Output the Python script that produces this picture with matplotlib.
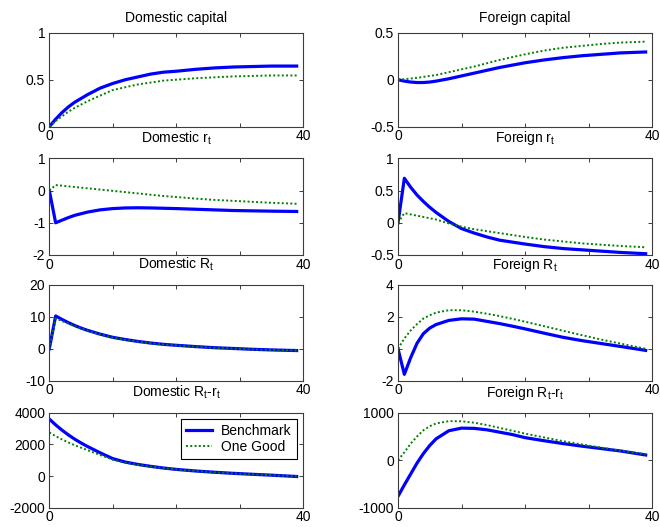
import numpy as np
import matplotlib
matplotlib.use('Agg')
import matplotlib.pyplot as plt

plt.rcParams['font.family'] = ['Liberation Sans', 'DejaVu Sans']
plt.rcParams['font.size'] = 10
plt.rcParams['mathtext.default'] = 'regular'

# quarters after the shock (sampled)
t = [0, 1, 2, 3, 4, 5, 6, 8, 10, 12, 14, 16, 18, 20, 23, 26, 29, 32, 35, 39]

# Benchmark series
bm_dom_k = [0, 0.08, 0.15, 0.21, 0.26, 0.30, 0.34, 0.41, 0.46, 0.50, 0.53, 0.56, 0.58, 0.59, 0.61, 0.625, 0.635, 0.64, 0.645, 0.645]
bm_for_k = [0, -0.015, -0.025, -0.03, -0.03, -0.025, -0.015, 0.01, 0.04, 0.07, 0.10, 0.13, 0.155, 0.18, 0.21, 0.235, 0.255, 0.27, 0.285, 0.295]
bm_dom_r = [0, -1.0, -0.92, -0.84, -0.77, -0.72, -0.67, -0.60, -0.56, -0.54, -0.535, -0.54, -0.55, -0.56, -0.58, -0.60, -0.62, -0.63, -0.64, -0.65]
bm_for_r = [0, 0.69, 0.55, 0.43, 0.33, 0.24, 0.16, 0.02, -0.09, -0.16, -0.22, -0.27, -0.30, -0.33, -0.37, -0.40, -0.42, -0.44, -0.46, -0.48]
bm_dom_R = [0, 10.3, 9.2, 8.2, 7.3, 6.5, 5.8, 4.6, 3.6, 2.9, 2.3, 1.8, 1.4, 1.1, 0.7, 0.35, 0.1, -0.15, -0.35, -0.55]
bm_for_R = [0, -1.6, -0.55, 0.35, 0.95, 1.3, 1.52, 1.78, 1.88, 1.86, 1.72, 1.58, 1.42, 1.25, 0.98, 0.72, 0.51, 0.33, 0.15, -0.1]
bm_dom_Rr = [3600, 3230, 2900, 2600, 2330, 2090, 1870, 1470, 1100, 880, 730, 610, 505, 420, 320, 240, 170, 110, 55, -30]
bm_for_Rr = [-760, -520, -290, -60, 140, 310, 450, 620, 675, 670, 640, 590, 540, 475, 410, 350, 295, 245, 195, 110]

# One Good series
og_dom_k = [0, 0.06, 0.11, 0.16, 0.20, 0.235, 0.27, 0.33, 0.39, 0.42, 0.45, 0.47, 0.49, 0.50, 0.515, 0.525, 0.535, 0.54, 0.545, 0.545]
og_for_k = [0, 0.005, 0.012, 0.02, 0.03, 0.04, 0.05, 0.08, 0.11, 0.14, 0.175, 0.21, 0.24, 0.27, 0.31, 0.34, 0.36, 0.38, 0.395, 0.405]
og_dom_r = [0, 0.17, 0.15, 0.13, 0.11, 0.09, 0.07, 0.03, -0.01, -0.05, -0.09, -0.13, -0.17, -0.20, -0.25, -0.29, -0.32, -0.35, -0.38, -0.41]
og_for_r = [0, 0.15, 0.13, 0.11, 0.09, 0.07, 0.05, -0.01, -0.06, -0.10, -0.13, -0.16, -0.19, -0.22, -0.26, -0.29, -0.32, -0.34, -0.36, -0.38]
og_dom_R = [0, 9.5, 8.7, 7.9, 7.1, 6.4, 5.7, 4.5, 3.5, 2.8, 2.25, 1.75, 1.35, 1.05, 0.65, 0.3, 0.05, -0.2, -0.4, -0.55]
og_for_R = [0, 0.65, 1.15, 1.55, 1.9, 2.1, 2.27, 2.42, 2.42, 2.33, 2.2, 2.05, 1.88, 1.7, 1.42, 1.13, 0.85, 0.58, 0.33, 0.0]
og_dom_Rr = [2750, 2520, 2310, 2120, 1950, 1790, 1640, 1330, 1030, 840, 705, 595, 495, 412, 315, 235, 165, 105, 55, -20]
og_for_Rr = [0, 165, 350, 500, 630, 715, 775, 822, 820, 790, 740, 680, 620, 560, 480, 400, 330, 265, 200, 125]

titles = ['Domestic capital', 'Foreign capital',
          'Domestic r$_t$', 'Foreign r$_t$',
          'Domestic R$_t$', 'Foreign R$_t$',
          'Domestic R$_t$-r$_t$', 'Foreign R$_t$-r$_t$']
bench = [bm_dom_k, bm_for_k, bm_dom_r, bm_for_r, bm_dom_R, bm_for_R, bm_dom_Rr, bm_for_Rr]
onegood = [og_dom_k, og_for_k, og_dom_r, og_for_r, og_dom_R, og_for_R, og_dom_Rr, og_for_Rr]
ylims = [(0, 1), (-0.5, 0.5), (-2, 1), (-0.5, 1), (-10, 20), (-2, 4), (-2000, 4000), (-1000, 1000)]
yticks = [[0, 0.5, 1], [-0.5, 0, 0.5], [-2, -1, 0, 1], [-0.5, 0, 0.5, 1],
          [-10, 0, 10, 20], [-2, 0, 2, 4], [-2000, 0, 2000, 4000], [-1000, 0, 1000]]

W, H = 660, 527
rows_px = [(32.7, 126.7), (158.3, 255.0), (285.0, 380.7), (412.7, 507.7)]
cols_px = [(49.3, 303.0), (398.0, 652.0)]

fig = plt.figure(figsize=(W / 100, H / 100), dpi=100)
edge = '#3c3c3c'

for i in range(8):
    r, c = divmod(i, 2)
    top, bot = rows_px[r]
    left, right = cols_px[c]
    ax = fig.add_axes([left / W, 1 - bot / H, (right - left) / W, (bot - top) / H])
    ax.plot(t, bench[i], color='#0000ff', lw=2.3, label='Benchmark')
    ax.plot(t, onegood[i], color='#008000', lw=1.4, ls=(0, (1, 1.2)), label='One Good')
    ax.set_xlim(0, 40)
    ax.set_ylim(*ylims[i])
    ax.set_xticks([0, 10, 20, 30, 40])
    ax.set_xticklabels(['0', '', '', '', '40'])
    ax.set_yticks(yticks[i])
    ax.set_yticklabels([f'{v:g}' for v in yticks[i]])
    ax.tick_params(direction='in', length=3, width=0.7, color=edge,
                   top=True, right=True, labelsize=10)
    ax.tick_params(axis='x', pad=2)
    ax.tick_params(axis='y', pad=3)
    for s in ax.spines.values():
        s.set_color(edge)
        s.set_linewidth(0.8)
    pad = 11.5 if '$' in titles[i] else 7.6
    ax.set_title(titles[i], fontsize=10, pad=pad)
    if i == 6:
        leg = ax.legend(loc='upper right', fancybox=False, framealpha=1,
                        edgecolor='black', borderaxespad=0.45, handlelength=1.9,
                        handletextpad=0.65, labelspacing=0.15, borderpad=0.35)
        leg.get_frame().set_linewidth(0.8)

fig.savefig('out.png', dpi=100)
